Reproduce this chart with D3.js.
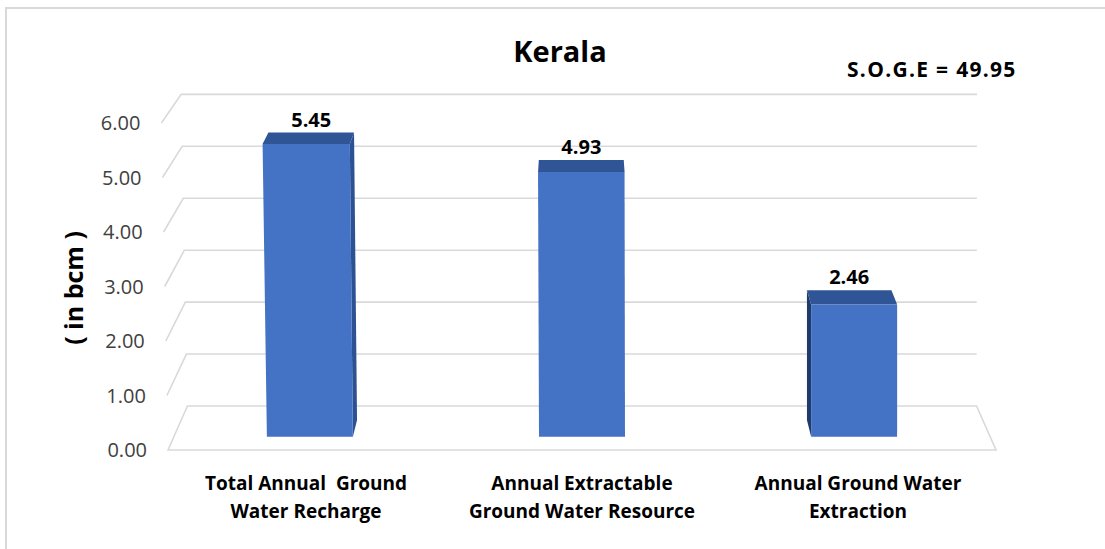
<!DOCTYPE html>
<html>
<head>
<meta charset="utf-8">
<script src="https://cdn.jsdelivr.net/npm/d3@7"></script>
<style>
  html, body { margin: 0; padding: 0; background: #fff; }
  svg { display: block; font-family: "Open Sans", "Noto Sans", sans-serif; }
</style>
</head>
<body>
<svg id="chart" width="1105" height="549"></svg>
<script>
// ---- data ----
const categories = [
  ["Total Annual  Ground", "Water Recharge"],
  ["Annual Extractable", "Ground Water Resource"],
  ["Annual Ground Water", "Extraction"]
];
const values = [5.45, 4.93, 2.46];
const yTicks = [0, 1, 2, 3, 4, 5, 6];
const title = "Kerala";
const yTitle = "( in bcm )";
const note = "S.O.G.E = 49.95";

// ---- layout / projection ----
const svg = d3.select("#chart");
const W = 1105, H = 549;
const catKeys = categories.map((c, i) => i);
const x = d3.scaleBand().domain(catKeys).range([168, 996]).padding(0);
const y = d3.scaleLinear().domain([0, 6]).range([450, 123]);
const VPx = 582, VPy = -486, SB = 0.953;
function lean(xu, v) {
  const r = (812 - xu) / 644;
  return -1.1 * Math.sign(r) * r * r * v;
}
function proj(xu, v, z) {
  const fx = xu + lean(xu, v), fy = y(v);
  const s = 1 - (1 - SB) * z;
  return [VPx + (fx - VPx) * s, VPy + (fy - VPy) * s];
}
const line = d3.line();
const x0 = x.range()[0], x1 = x.range()[1];

// frame
svg.append("path")
  .attr("d", line([[6, H], [6, 8], [W, 8]]))
  .attr("fill", "none").attr("stroke", "#d9d9d9").attr("stroke-width", 2);

// gridlines (left wall + back wall)
const grid = svg.append("g").attr("fill", "none").attr("stroke", "#d9d9d9").attr("stroke-width", 1.6);
yTicks.filter(v => v > 0).forEach(v => {
  grid.append("path").attr("d", line([proj(x0, v, 0), proj(x0, v, 1), proj(x1, v, 1)]));
});
// floor
grid.append("path").attr("d", line([proj(x0, 0, 0), proj(x0, 0, 1), proj(x1, 0, 1), proj(x1, 0, 0)]) + "Z");

// tick labels
svg.append("g").selectAll("text").data(yTicks).join("text")
  .attr("x", v => proj(x0, v, 0)[0] - 21)
  .attr("y", v => y(v))
  .attr("dy", "0.35em")
  .attr("text-anchor", "end")
  .attr("font-size", 20)
  .attr("fill", "#404040")
  .text(v => d3.format(".2f")(v));

// bars
const z0 = 0.30, z1 = 0.68;
const bars = svg.append("g");
values.forEach((v, i) => {
  const xc = x(i) + x.bandwidth() / 2;
  const w = x.bandwidth() * 0.316 / 2;
  const g = bars.append("g");
  const sx = xc < VPx - 5 ? xc + w : (xc > VPx + 5 ? xc - w : null);
  if (sx !== null) {
    g.append("path")
      .attr("d", line([proj(sx, 0, z0), proj(sx, v, z0), proj(sx, v, z1), proj(sx, 0, z1)]) + "Z")
      .attr("fill", xc < VPx ? "#2c5294" : "#1f3a6b");
  }
  g.append("path")
    .attr("d", line([proj(xc - w, v, z0), proj(xc + w, v, z0), proj(xc + w, v, z1), proj(xc - w, v, z1)]) + "Z")
    .attr("fill", "#2f5597");
  g.append("path")
    .attr("d", line([proj(xc - w, 0, z0), proj(xc + w, 0, z0), proj(xc + w, v, z0), proj(xc - w, v, z0)]) + "Z")
    .attr("fill", "#4472c4");
  const lp = proj(xc, v, z1);
  g.append("text")
    .attr("x", lp[0]).attr("y", lp[1] - 6)
    .attr("text-anchor", "middle")
    .attr("font-size", 20).attr("font-weight", "bold").attr("fill", "#000")
    .text(d3.format(".2f")(v));
});

// category labels
svg.append("g").selectAll("text").data(categories).join("text")
  .attr("text-anchor", "middle")
  .style("white-space", "pre")
  .attr("font-size", 19).attr("font-weight", "bold").attr("fill", "#000")
  .each(function(lines, i) {
    const t = d3.select(this);
    const xc = x(i) + x.bandwidth() / 2;
    lines.forEach((s, k) => {
      t.append("tspan").attr("x", xc).attr("y", 490 + k * 28).text(s);
    });
  });

// title
svg.append("text").attr("x", 560).attr("y", 62)
  .attr("text-anchor", "middle").attr("font-size", 29).attr("font-weight", "bold")
  .text(title);

// note
svg.append("text").attr("x", 847).attr("y", 77)
  .attr("font-size", 21).attr("font-weight", "bold").attr("letter-spacing", 1.3)
  .text(note);

// y title
svg.append("text")
  .attr("transform", "translate(83,288) rotate(-90)")
  .attr("text-anchor", "middle").attr("font-size", 25).attr("font-weight", "bold")
  .text(yTitle);
</script>
</body>
</html>
